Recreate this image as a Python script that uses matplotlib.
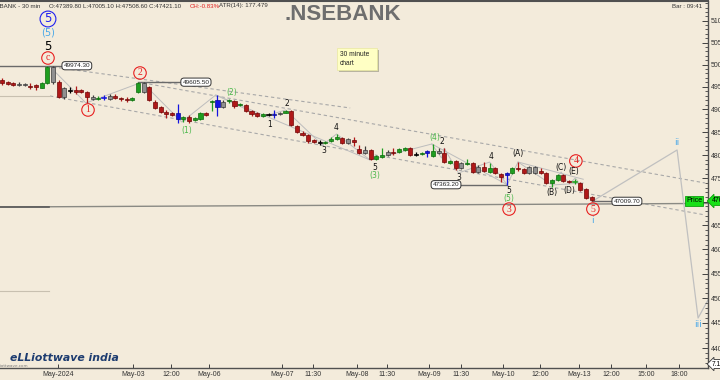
import numpy as np
import matplotlib
matplotlib.use("Agg")
import matplotlib.pyplot as plt
from matplotlib.patches import Rectangle
from matplotlib.ticker import FixedLocator, NullFormatter, FixedFormatter

# ---------------- data ----------------
opens = [49654, 49609, 49587, 49565, 49542, 49520, 49542, 49475, 49587, 49946,
         49609, 49275, 49430, 49430, 49430, 49386, 49275, 49230, 49260, 49297,
         49297, 49252, 49230, 49208, 49386, 49587, 49497, 49164, 49053, 48943,
         48920, 48920, 48788, 48832, 48766, 48788, 48920, 49164, 49208, 49164,
         49186, 49186, 49097, 49097, 48965, 48920, 48854, 48898, 48898, 48920,
         48920, 48965, 48634, 48481, 48437, 48328, 48284, 48263, 48306, 48350,
         48372, 48350, 48328, 48133, 48111, 48111, 47916, 47959, 48067, 48067,
         48067, 48111, 48154, 48024, 48024, 48046, 47981, 48089, 48046, 47830,
         47873, 47830, 47808, 47830, 47743, 47743, 47636, 47722, 47593, 47571,
         47614, 47722, 47700, 47743, 47614, 47657, 47614, 47400, 47464, 47571,
         47443, 47410, 47400, 47272, 47102]
highs = [49699, 49632, 49609, 49609, 49587, 49587, 49565, 49609, 49969, 49974.3,
         49654, 49497, 49497, 49520, 49453, 49408, 49319, 49297, 49319, 49341,
         49341, 49275, 49275, 49275, 49609, 49605.5, 49520, 49208, 49075, 48987,
         48943, 49119, 48854, 48876, 48832, 48943, 48943, 49208, 49319, 49208,
         49230, 49208, 49141, 49119, 48987, 48943, 48920, 48920, 48987, 48943,
         48987, 48987, 48656, 48525, 48459, 48350, 48328, 48306, 48393, 48459,
         48393, 48372, 48393, 48219, 48198, 48133, 48002, 48154, 48111, 48154,
         48154, 48176, 48176, 48067, 48067, 48111, 48241, 48154, 48154, 47894,
         47894, 47851, 47916, 47851, 47786, 47851, 47830, 47743, 47614, 47636,
         47743, 47851, 47722, 47765, 47765, 47722, 47636, 47486, 47593, 47593,
         47464, 47486, 47421, 47293, 47123]
lows = [49542, 49542, 49520, 49520, 49520, 49453, 49430, 49475, 49565, 49565,
        49252, 49230, 49364, 49341, 49364, 49141, 49208, 49208, 49208, 49208,
        49230, 49186, 49164, 49186, 49364, 49364, 49186, 49009, 48920, 48810,
        48854, 48700, 48722, 48700, 48744, 48766, 48854, 48965, 48854, 49031,
        49141, 49031, 49075, 48943, 48854, 48832, 48832, 48854, 48810, 48876,
        48920, 48634, 48481, 48415, 48263, 48263, 48219, 48241, 48284, 48328,
        48241, 48241, 48198, 48024, 48024, 47894, 47894, 47938, 47981, 48002,
        48046, 48089, 47981, 47981, 48002, 47959, 47959, 48024, 47830, 47808,
        47679, 47700, 47786, 47614, 47614, 47636, 47614, 47593, 47421, 47363.2,
        47593, 47657, 47593, 47593, 47593, 47593, 47379, 47315, 47443, 47421,
        47400, 47379, 47230, 47059, 47009.7]
closes = [49587, 49565, 49542, 49542, 49565, 49497, 49497, 49587, 49946, 49609,
          49275, 49475, 49410, 49386, 49386, 49275, 49230, 49252, 49252, 49230,
          49252, 49230, 49208, 49252, 49587, 49386, 49208, 49031, 48943, 48898,
          48876, 48788, 48832, 48744, 48810, 48920, 48876, 49186, 49053, 49053,
          49208, 49075, 49119, 48965, 48898, 48854, 48898, 48880, 48876, 48898,
          48965, 48656, 48503, 48437, 48306, 48284, 48270, 48284, 48350, 48393,
          48263, 48263, 48284, 48046, 48046, 47916, 47981, 48002, 48002, 48046,
          48133, 48154, 48002, 48010, 48046, 48089, 48089, 48046, 47851, 47873,
          47722, 47722, 47830, 47636, 47636, 47657, 47722, 47614, 47528, 47614,
          47722, 47700, 47614, 47614, 47743, 47614, 47400, 47464, 47571, 47443,
          47421, 47421, 47251, 47080, 47038]
bar_colors = ("rrrkkrrggk" "rkxrrrkgbk" "rrrggkrrrr" "rbgrggrgbk" "grgrrrgxbk"
              "grrrrrxggg" "rkrrkrggkr" "ggrxgbgkrg" "rkgrkrgrrb" "grrkkrrggr" "rgrrr")

tick_pos = [9.88, 23.1, 29.8, 36.5, 49.4, 54.9, 62.6, 67.9, 75.3, 80.9, 88.4, 94.9,
            101.8, 107.4, 113.6, 119.4]
tick_labels = ["May-2024", "May-03", "12:00", "May-06", "May-07", "11:30", "May-08",
               "11:30", "May-09", "11:30", "May-10", "12:00", "May-13", "12:00",
               "15:00", "18:00"]
y_ticks = list(range(44000, 51001, 500))

level_prices = [49974.30, 49605.50, 47363.20, 47009.70]
level_labels = ["49974.30", "49605.50", "47363.20", "47009.70"]
level_spans = [(-0.4, 11.0), (24.0, 31.6), (80.8, 89.0), (104.0, 107.8)]
level_label_x = [13.2, 34.2, 78.3, 110.2]

# Elliott wave path (bar index, price)
wave_x = [8.3, 14.8, 24.7, 31.7, 37.7, 64.9, 75.8, 89.1, 91.0, 97.0, 98.6, 100.0, 101.1, 104.1]
wave_y = [49974, 49141, 49605, 48722, 49319, 47894, 48241, 47363, 47851, 47357, 47636, 47379, 47507, 47010]
minor1_x = [37.7, 46.0, 50.0, 56.5, 59.0, 64.9]
minor1_y = [49319, 48832, 48987, 48219, 48459, 47894]
minor2_x = [75.8, 77.5, 78.0, 80.5, 86.0, 89.1]
minor2_y = [48241, 47938, 48150, 47614, 47850, 47363]
fc_x = [104.1, 119.05, 122.75, 124.5]
fc_y = [47010, 48111, 44599, 44963]
tri_a_x, tri_a_y = [91.0, 102.5], [47851, 47480]
tri_b_x, tri_b_y = [97.0, 102.5], [47357, 47400]

chan_c = ([9.0, 61.4], [49946, 49031])
chan_up = ([24.9, 124.0], [49587, 47400])
chan_lo = ([8.47, 124.0], [49297, 46721])
long_line = ([-0.4, 124.5], [46889, 46965])

# ---------------- figure ----------------
BG = "#f3ebdb"
W, H = 720, 380
fig = plt.figure(figsize=(7.2, 3.8), dpi=100)
fig.patch.set_facecolor(BG)
ax = fig.add_axes([0, 12 / H, 708 / W, 367 / H])
ax.set_facecolor(BG)
ax.set_yscale("log")
ax.set_ylim(43605, 51455)
ax.set_xlim(-0.35, 124.5)

def fx(x):
    return x / W

def fy(y):
    return 1 - y / H

# lines (behind candles)
gl = dict(color="#a8a8a8", lw=0.8, zorder=1)
ax.plot(*chan_c, ls=(0, (3, 2.5)), **gl)
ax.plot(*chan_up, ls=(0, (3, 2.5)), **gl)
ax.plot(*chan_lo, ls=(0, (3, 2.5)), **gl)
ax.plot([-0.4, 8.47], [49297, 49297], color="#c8c0b0", lw=0.8, zorder=1)
ax.plot([-0.4, 8.3], [45146, 45146], color="#c8c0b0", lw=0.8, zorder=1)
ax.plot(*long_line, color="#8a8a84", lw=1.0, zorder=1)
ax.plot([-0.4, 8.3], [46889, 46889], color="#5a5a5a", lw=1.2, zorder=1)
sl = dict(color="#bdbdbd", lw=0.7, zorder=1)
ax.plot(wave_x, wave_y, **sl)
ax.plot(minor1_x, minor1_y, **sl)
ax.plot(minor2_x, minor2_y, **sl)
ax.plot(tri_a_x, tri_a_y, **sl)
ax.plot(tri_b_x, tri_b_y, **sl)
ax.plot(fc_x, fc_y, color="#c0c0c0", lw=0.9, zorder=1)

# level lines + boxes
for pr, lab, sp, lx in zip(level_prices, level_labels, level_spans, level_label_x):
    ax.plot(sp, [pr, pr], color="#6a6a6a", lw=1.0, zorder=2)
    ax.text(lx, pr, lab, fontsize=4.6, ha="center", va="center", family="Liberation Sans",
            color="#222", zorder=6,
            bbox=dict(boxstyle="round,pad=0.25,rounding_size=0.5", fc="white", ec="#333", lw=0.7))

# candles
cmap = {"g": ("#1f9e1f", "#0d6a0d"), "r": ("#b01818", "#6e0808"), "k": ("#909090", "#3c3c3c"),
        "b": ("#1414e0", "#0a0a9a"), "x": ("#000000", "#000000")}
bw = 0.72
for i, (o, h, l, c, cc) in enumerate(zip(opens, highs, lows, closes, bar_colors)):
    fc, ec = cmap[cc]
    wick = ec if cc in "kx" else fc
    ax.plot([i, i], [l, h], color=wick, lw=0.9, zorder=3, solid_capstyle="butt")
    lo_, hi_ = min(o, c), max(o, c)
    if hi_ - lo_ < 12:
        ax.plot([i - bw / 2, i + bw / 2], [(lo_ + hi_) / 2] * 2, color=fc, lw=1.2, zorder=4)
    else:
        ax.add_patch(Rectangle((i - bw / 2, lo_), bw, hi_ - lo_, fc=fc, ec=ec, lw=0.5, zorder=4))

# annotations
def circ(x, y, s, col, fs=7, fam="Liberation Serif", pad=0.18):
    ax.text(x, y, s, fontsize=fs, ha="center", va="center", color=col, family=fam, zorder=7,
            bbox=dict(boxstyle=f"circle,pad={pad}", fc="none", ec=col, lw=0.8))

def lab(x, y, s, col="#111", fs=5.5, fam="DejaVu Sans"):
    ax.text(x, y, s, fontsize=fs, ha="center", va="center", color=col, family=fam, zorder=7)

RED = "#e82020"
GRN = "#4cb84c"
CYN = "#4aa8e8"
circ(8.11, 51039, "5", "#2020f0", fs=8.5, fam="DejaVu Sans", pad=0.12)
lab(8.11, 50718, "(5)", CYN, fs=7)
lab(8.11, 50421, "5", "#000", fs=8.5)
circ(8.11, 50149, "c", RED, fs=7)
circ(15.17, 48987, "1", RED)
circ(24.34, 49811, "2", RED)
lab(32.63, 48525, "(1)", GRN)
lab(40.56, 49364, "(2)", GRN)
lab(47.27, 48678, "1")
lab(50.26, 49141, "2")
lab(56.79, 48089, "3")
lab(58.91, 48612, "4")
lab(65.78, 47722, "5")
lab(65.78, 47550, "(3)", GRN)
lab(76.37, 48393, "(4)", GRN)
lab(77.6, 48306, "2")
lab(80.6, 47528, "3")
lab(86.24, 47959, "4")
lab(89.42, 47230, "5")
lab(89.42, 47059, "(5)", GRN)
circ(89.42, 46846, "3", RED)
lab(91.0, 48024, "(A)")
lab(97.0, 47187, "(B)")
lab(98.6, 47743, "(C)")
circ(101.2, 47873, "4", RED)
lab(100.9, 47636, "(E)")
lab(100.0, 47230, "(D)")
circ(104.2, 46846, "5", RED)
lab(104.2, 46615, "i", CYN, fs=6.5)
lab(119.05, 48284, "ii", CYN, fs=6.5)
lab(122.75, 44459, "iii", CYN, fs=6.5)

# axes styling
ax.spines["left"].set_visible(False)
for s in ["right", "bottom", "top"]:
    ax.spines[s].set_color("#505050")
ax.spines["top"].set_linewidth(1.5)
ax.spines["right"].set_linewidth(1.0)
ax.spines["bottom"].set_linewidth(1.0)
ax.yaxis.tick_right()
ax.yaxis.set_major_locator(FixedLocator(y_ticks))
ax.yaxis.set_major_formatter(FixedFormatter([str(v) for v in y_ticks]))
ax.yaxis.set_minor_locator(FixedLocator(list(range(43700, 51401, 100))))
ax.yaxis.set_minor_formatter(NullFormatter())
ax.tick_params(axis="y", which="major", direction="in", length=4, width=0.7, color="#404040",
               labelsize=5, pad=2, labelcolor="#333")
ax.tick_params(axis="y", which="minor", direction="in", length=2, width=0.6, color="#404040")
ax.set_xticks(tick_pos)
ax.set_xticklabels(tick_labels)
ax.tick_params(axis="x", direction="in", length=3, width=0.7, color="#404040", labelsize=5,
               pad=2, labelcolor="#333")
for t in ax.get_xticklabels() + ax.get_yticklabels():
    t.set_family("Liberation Sans")
ax.grid(False)

# price tags on right
fig.text(fx(694), fy(201), "Price", fontsize=5, ha="center", va="center", color="#000",
         family="Liberation Sans", bbox=dict(boxstyle="square,pad=0.2", fc="#18e018", ec="#10a010", lw=0.6))
fig.text(fx(712), fy(201), "47009.70", fontsize=5, ha="left", va="center", color="#000",
         family="Liberation Sans", bbox=dict(boxstyle="larrow,pad=0.15", fc="#18e018", ec="#10a010", lw=0.6))
fig.text(fx(712), fy(364), "7.18", fontsize=4.8, ha="left", va="center", color="#000",
         family="Liberation Sans", bbox=dict(boxstyle="larrow,pad=0.15", fc="white", ec="#333", lw=0.6))

# header & title
hdr = dict(fontsize=4.4, va="center", family="Liberation Sans", color="#333")
fig.text(fx(40), fy(6), ".NSEBANK - 30 min", ha="right", **hdr)
fig.text(fx(49), fy(6), "O:47389.80 L:47005.10 H:47508.60 C:47421.10", ha="left", **hdr)
fig.text(fx(190), fy(6), "CH:-0.83%", ha="left", **{**hdr, "color": "#e02020"})
fig.text(fx(219), fy(6), "ATR(14): 177.479", ha="left", **hdr)
fig.text(fx(702), fy(6), "Bar : 09:41", ha="right", **hdr)
fig.text(fx(343), fy(14), ".NSEBANK", fontsize=16, weight="bold", ha="center", va="center",
         color="#6e6e6e", family="Liberation Sans")

# note box
fig.patches.append(Rectangle((fx(339), fy(72)), 40 / W, 22 / H, transform=fig.transFigure,
                             fc="#b8b4a0", ec="none", zorder=1))
fig.patches.append(Rectangle((fx(337), fy(70)), 40 / W, 22 / H, transform=fig.transFigure,
                             fc="#ffffc4", ec="#e8e8a0", lw=0.5, zorder=2))
fig.text(fx(340), fy(59), "30 minute\nchart", fontsize=4.8, ha="left", va="center",
         family="Liberation Sans", color="#222", linespacing=1.4, zorder=3)

# logo
fig.text(fx(10), fy(358), "eLLiottwave india", fontsize=7.8, style="italic", weight="bold",
         ha="left", va="center", color="#1d3c70", family="DejaVu Sans")
fig.text(fx(28), fy(366), "elliottwave.com", fontsize=3.0, ha="right", va="center", color="#777")

fig.savefig("out.png", dpi=100, facecolor=BG)
